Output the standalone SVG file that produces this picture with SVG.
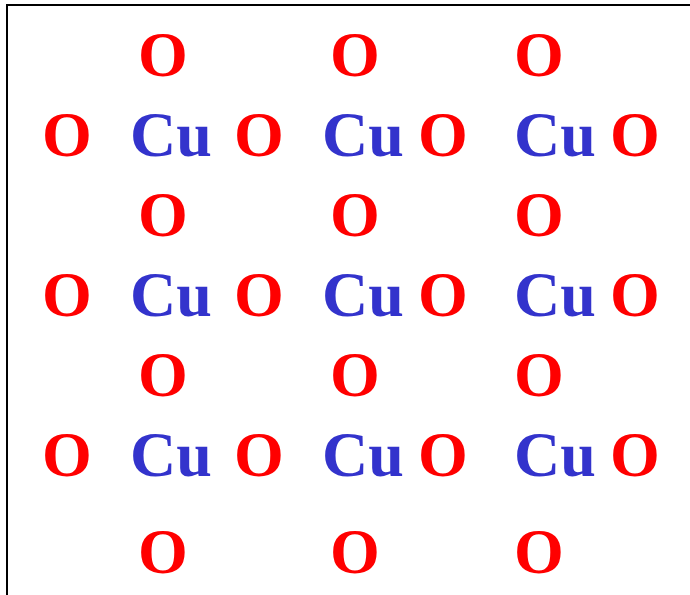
<svg xmlns="http://www.w3.org/2000/svg" width="690" height="595" viewBox="0 0 690 595">
<style>
.t{font-family:"Liberation Serif","Times New Roman",serif;font-weight:bold;font-size:64px;text-anchor:middle}
.o{fill:#FF0000}
.cu{fill:#3333CC}
</style>
<rect width="690" height="595" fill="#fff"/>
<path d="M7,595 V5 H690" fill="none" stroke="#000" stroke-width="2"/>
<g id="row1">
<text class="t o" x="163" y="76">O</text><text class="t o" x="355" y="76">O</text><text class="t o" x="539" y="76">O</text>
</g>
<g id="row2">
<text class="t o" x="67" y="156">O</text><text class="t cu" x="171" y="156">Cu</text><text class="t o" x="259" y="156">O</text><text class="t cu" x="363" y="156">Cu</text><text class="t o" x="443" y="156">O</text><text class="t cu" x="555" y="156">Cu</text><text class="t o" x="635" y="156">O</text>
</g>
<g id="row3">
<text class="t o" x="163" y="236">O</text><text class="t o" x="355" y="236">O</text><text class="t o" x="539" y="236">O</text>
</g>
<g id="row4">
<text class="t o" x="67" y="316">O</text><text class="t cu" x="171" y="316">Cu</text><text class="t o" x="259" y="316">O</text><text class="t cu" x="363" y="316">Cu</text><text class="t o" x="443" y="316">O</text><text class="t cu" x="555" y="316">Cu</text><text class="t o" x="635" y="316">O</text>
</g>
<g id="row5">
<text class="t o" x="163" y="396">O</text><text class="t o" x="355" y="396">O</text><text class="t o" x="539" y="396">O</text>
</g>
<g id="row6">
<text class="t o" x="67" y="476">O</text><text class="t cu" x="171" y="476">Cu</text><text class="t o" x="259" y="476">O</text><text class="t cu" x="363" y="476">Cu</text><text class="t o" x="443" y="476">O</text><text class="t cu" x="555" y="476">Cu</text><text class="t o" x="635" y="476">O</text>
</g>
<g id="row7">
<text class="t o" x="163" y="573">O</text><text class="t o" x="355" y="573">O</text><text class="t o" x="539" y="573">O</text>
</g>
<g id="connectors"/>
</svg>
